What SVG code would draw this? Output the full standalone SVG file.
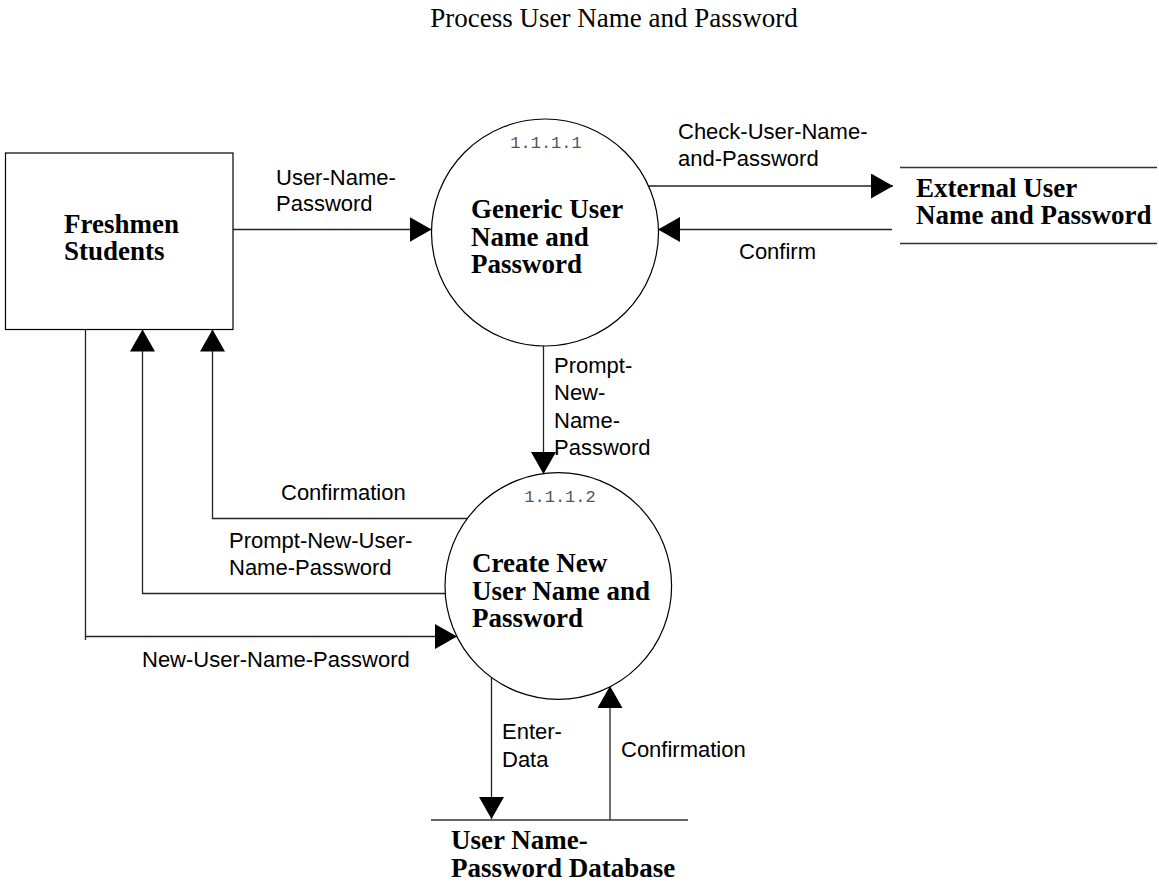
<svg xmlns="http://www.w3.org/2000/svg" width="1159" height="894" viewBox="0 0 1159 894">
<style>
.title{font-family:"Liberation Serif","Times New Roman",serif;font-size:27px;fill:#000}
.node{font-family:"Liberation Serif","Times New Roman",serif;font-size:27px;font-weight:bold;fill:#000}
.lbl{font-family:"Liberation Sans",Arial,sans-serif;font-size:22px;fill:#000}
.num{font-family:"Liberation Mono","Courier New",monospace;font-size:17px;fill:#555}
.shape{fill:#fff;stroke:#000;stroke-width:1.2}
.store{fill:none;stroke:#333;stroke-width:1.4}
.flow{fill:none;stroke:#222;stroke-width:1.3}
.arr{marker-end:url(#ah)}
</style>
<defs>
<marker id="ah" viewBox="0 0 22 25" markerWidth="22" markerHeight="25" refX="22" refY="12.5" orient="auto" markerUnits="userSpaceOnUse">
<path d="M0,0 L22,12.5 L0,25 Z" fill="#000"/>
</marker>
</defs>
<rect width="1159" height="894" fill="#fff"/>
<text class="title" x="614" y="27" text-anchor="middle">Process User Name and Password</text>

<g id="connectors">
<!-- User-Name-Password -->
<line class="flow arr" x1="233" y1="229.5" x2="431.5" y2="229.5"/>
<text class="lbl" x="276" y="185">User-Name-</text>
<text class="lbl" x="276" y="211">Password</text>
<!-- Check -->
<line class="flow arr" x1="648.5" y1="186" x2="893" y2="186"/>
<text class="lbl" x="678" y="139">Check-User-Name-</text>
<text class="lbl" x="678" y="166">and-Password</text>
<!-- Confirm -->
<line class="flow arr" x1="892" y1="229.5" x2="658" y2="229.5"/>
<text class="lbl" x="739" y="259">Confirm</text>
<!-- Prompt-New-Name-Password -->
<line class="flow arr" x1="543.5" y1="345" x2="543.5" y2="474"/>
<text class="lbl" x="554" y="373">Prompt-</text>
<text class="lbl" x="554" y="400">New-</text>
<text class="lbl" x="554" y="428">Name-</text>
<text class="lbl" x="554" y="455">Password</text>
<!-- Confirmation to students -->
<polyline class="flow arr" points="467.5,518.5 212.5,518.5 212.5,329.5"/>
<text class="lbl" x="281" y="500">Confirmation</text>
<!-- Prompt-New-User-Name-Password -->
<polyline class="flow arr" points="445.2,593.5 142.5,593.5 142.5,329.5"/>
<text class="lbl" x="229" y="548">Prompt-New-User-</text>
<text class="lbl" x="229" y="575">Name-Password</text>
<!-- New-User-Name-Password -->
<polyline class="flow arr" points="85.5,329.5 85.5,636.5 457,636.5"/>
<line class="flow" x1="85.5" y1="636" x2="85.5" y2="640"/>
<text class="lbl" x="142" y="667">New-User-Name-Password</text>
<!-- Enter-Data -->
<line class="flow arr" x1="491.5" y1="677.5" x2="491.5" y2="819"/>
<text class="lbl" x="502" y="739">Enter-</text>
<text class="lbl" x="502" y="767">Data</text>
<!-- Confirmation from DB -->
<line class="flow arr" x1="610" y1="820" x2="610" y2="686"/>
<text class="lbl" x="621" y="757">Confirmation</text>
</g>

<g id="freshmen-students">
<rect class="shape" x="5.5" y="153" width="227.5" height="176.5" stroke="#444"/>
<text class="node" x="64" y="233">Freshmen</text>
<text class="node" x="64" y="260">Students</text>
</g>

<g id="process-1-1-1-1">
<circle class="shape" cx="545" cy="232.5" r="113.5"/>
<text class="num" x="546" y="148" text-anchor="middle">1.1.1.1</text>
<text class="node" x="471" y="218">Generic User</text>
<text class="node" x="471" y="246">Name and</text>
<text class="node" x="471" y="273">Password</text>
</g>

<g id="external-store">
<line class="store" x1="900" y1="167.5" x2="1157" y2="167.5"/>
<line class="store" x1="900" y1="243.5" x2="1157" y2="243.5"/>
<text class="node" x="916" y="197">External User</text>
<text class="node" x="916" y="224">Name and Password</text>
</g>

<g id="process-1-1-1-2">
<circle class="shape" cx="558.3" cy="586" r="113.3"/>
<text class="num" x="560" y="502" text-anchor="middle">1.1.1.2</text>
<text class="node" x="472" y="572">Create New</text>
<text class="node" x="472" y="600">User Name and</text>
<text class="node" x="472" y="627">Password</text>
</g>

<g id="db-store">
<line class="store" x1="431" y1="820" x2="688" y2="820"/>
<text class="node" x="451" y="849">User Name-</text>
<text class="node" x="451" y="877">Password Database</text>
</g>
</svg>
